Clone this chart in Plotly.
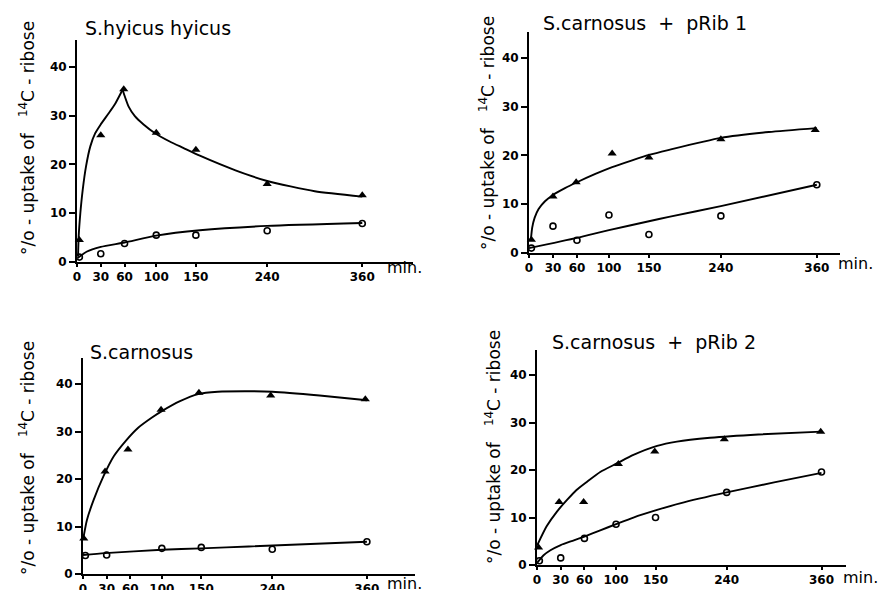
import plotly.graph_objects as go

W, H = 880, 590

# ---------------- data ----------------
x_ticks = [0, 30, 60, 100, 150, 240, 360]
y_ticks = [0, 10, 20, 30, 40]
sample_min = [3, 30, 60, 100, 150, 240, 360]

titles = ["S.hyicus hyicus", "S.carnosus  +  pRib 1", "S.carnosus", "S.carnosus  +  pRib 2"]

# Panel 1: S.hyicus hyicus
hyicus_tri_x = [3, 30, 59, 100, 150, 240, 360]
hyicus_tri = [4.5, 26.0, 35.4, 26.5, 23.0, 16.0, 13.7]
hyicus_circ = [1.0, 1.7, 3.8, 5.5, 5.5, 6.4, 7.9]
hyicus_tri_rise_x = [1.3, 2.1, 4.2, 7.2, 11.4, 16.8, 23, 29.5, 40, 48.4, 57.5]
hyicus_tri_rise_y = [1.1, 5.2, 10.0, 14.8, 19.6, 23.7, 26.4, 28.1, 30.5, 32.5, 35.3]
hyicus_tri_decay_x = [57.5, 65, 73, 84, 98.5, 117, 134, 155, 200, 240, 300, 360]
hyicus_tri_decay_y = [35.3, 31.9, 29.9, 28.2, 26.4, 24.7, 23.4, 21.8, 18.8, 16.6, 14.5, 13.4]
hyicus_circ_fit_x = [0.4, 12, 30, 60, 100, 155, 240, 360]
hyicus_circ_fit_y = [0.75, 2.1, 3.1, 4.0, 5.4, 6.5, 7.4, 8.0]

# Panel 2: S.carnosus + pRib 1
rib1_tri_x = [3, 30, 59, 104, 150, 240, 358]
rib1_tri = [2.7, 11.6, 14.5, 20.4, 19.6, 23.3, 25.2]
rib1_circ = [1.0, 5.5, 2.6, 7.8, 3.8, 7.6, 14.0]
rib1_tri_fit_x = [2.5, 4, 7, 12, 20, 30, 45, 60, 83, 104, 129, 150, 174, 240, 300, 360]
rib1_tri_fit_y = [3.0, 5.2, 7.2, 9.0, 10.6, 11.9, 13.3, 14.5, 16.2, 17.6, 19.0, 20.1, 21.1, 23.6, 24.8, 25.6]
rib1_circ_fit_x = [0, 60, 100, 150, 175, 240, 360]
rib1_circ_fit_y = [1.0, 3.1, 4.7, 6.5, 7.4, 9.6, 14.0]

# Panel 3: S.carnosus
carn_tri_x = [1, 28, 57, 99, 147, 238, 358]
carn_tri = [7.5, 21.6, 26.2, 34.6, 38.2, 37.6, 36.8]
carn_circ_x = [3, 30, 100, 150, 240, 360]
carn_circ = [3.9, 4.0, 5.4, 5.6, 5.2, 6.8]
carn_tri_fit_x = [0.8, 5, 13.5, 26, 39, 54, 70, 87, 100, 123, 146, 171, 205, 240, 300, 360]
carn_tri_fit_y = [7.9, 11.4, 15.6, 20.6, 24.8, 28.0, 30.8, 32.9, 34.3, 36.4, 37.9, 38.4, 38.5, 38.4, 37.6, 36.6]
carn_circ_fit_x = [0, 28, 100, 150, 210, 360]
carn_circ_fit_y = [4.0, 4.4, 5.1, 5.4, 5.8, 6.8]

# Panel 4: S.carnosus + pRib 2
rib2_tri_x = [2, 28, 59, 103, 149, 237, 359]
rib2_tri = [3.7, 13.3, 13.3, 21.3, 23.9, 26.5, 28.1]
rib2_circ = [0.9, 1.5, 5.6, 8.6, 10.0, 15.3, 19.6]
rib2_tri_fit_x = [0.4, 12, 25, 38, 50, 63, 80, 101, 122, 152, 177, 219, 280, 360]
rib2_tri_fit_y = [4.2, 8.1, 11.2, 13.7, 15.8, 17.5, 19.6, 21.4, 23.2, 25.1, 26.0, 26.8, 27.5, 28.1]
rib2_circ_fit_x = [0.4, 8, 17, 30, 45, 60, 80, 100, 122, 152, 181, 240, 300, 360]
rib2_circ_fit_y = [0.5, 2.0, 3.1, 4.2, 5.1, 6.0, 7.3, 8.6, 10.0, 11.6, 13.0, 15.3, 17.4, 19.4]

# ---------------- layout helpers ----------------
def px_x(p):
    return p / W

def px_y(p):
    return 1 - p / H

# panel geometry in pixels: (x0, x1, y_top, y_bottom, xmax, ymax)
panels = [
    (77, 413, 40, 262, 424, 45.5),
    (529, 840, 32, 253, 389, 45.3),
    (83, 415, 358, 574, 421, 45.5),
    (537, 846, 350, 565, 391, 45.3),
]
title_pos = [(83, 28), (541, 23), (88, 352), (550, 342)]
ytitle_pos = [(27, 138), (487, 133), (27, 458), (493, 447)]
min_pos = [(404, 268), (855, 263), (404, 583), (860, 577)]

fig = go.Figure()

tri_style = dict(symbol="triangle-up", size=8, color="black")
circ_style = dict(symbol="circle-open", size=6, color="black", line=dict(width=1.6, color="black"))
line_style = dict(color="black", width=1.9, shape="spline", smoothing=0.6)

series = [
    [("line", hyicus_tri_rise_x, hyicus_tri_rise_y),
     ("line", hyicus_tri_decay_x, hyicus_tri_decay_y),
     ("line", hyicus_circ_fit_x, hyicus_circ_fit_y),
     ("tri", hyicus_tri_x, hyicus_tri),
     ("circ", sample_min, hyicus_circ)],
    [("line", rib1_tri_fit_x, rib1_tri_fit_y),
     ("line", rib1_circ_fit_x, rib1_circ_fit_y),
     ("tri", rib1_tri_x, rib1_tri),
     ("circ", sample_min, rib1_circ)],
    [("line", carn_tri_fit_x, carn_tri_fit_y),
     ("line", carn_circ_fit_x, carn_circ_fit_y),
     ("tri", carn_tri_x, carn_tri),
     ("circ", carn_circ_x, carn_circ)],
    [("line", rib2_tri_fit_x, rib2_tri_fit_y),
     ("line", rib2_circ_fit_x, rib2_circ_fit_y),
     ("tri", rib2_tri_x, rib2_tri),
     ("circ", sample_min, rib2_circ)],
]

layout = {}
annotations = []
font_fam = "DejaVu Sans"
for i, (geom, sers) in enumerate(zip(panels, series)):
    n = i + 1
    xa = "x" if n == 1 else f"x{n}"
    ya = "y" if n == 1 else f"y{n}"
    for kind, xs, ys in sers:
        if kind == "line":
            fig.add_trace(go.Scatter(x=xs, y=ys, mode="lines", line=line_style,
                                     xaxis=xa, yaxis=ya, showlegend=False, cliponaxis=False))
        elif kind == "tri":
            fig.add_trace(go.Scatter(x=xs, y=ys, mode="markers", marker=tri_style,
                                     xaxis=xa, yaxis=ya, showlegend=False, cliponaxis=False))
        else:
            fig.add_trace(go.Scatter(x=xs, y=ys, mode="markers", marker=circ_style,
                                     xaxis=xa, yaxis=ya, showlegend=False, cliponaxis=False))
    x0, x1, yt, yb, xmax, ymax = geom
    axis_common = dict(showline=True, linecolor="black", linewidth=2, showgrid=False,
                       zeroline=False, ticks="outside", tickcolor="black", tickwidth=1.5,
                       automargin=False,
                       tickfont=dict(family=font_fam, size=12, color="black", weight="bold"))
    layout["xaxis" if n == 1 else f"xaxis{n}"] = dict(
        domain=[px_x(x0), px_x(x1)], range=[0, xmax], anchor=ya,
        tickvals=x_ticks, ticktext=[str(v) for v in x_ticks], ticklen=3, **axis_common)
    layout["yaxis" if n == 1 else f"yaxis{n}"] = dict(
        domain=[px_y(yb), px_y(yt)], range=[0, ymax], anchor=xa,
        tickvals=y_ticks, ticktext=[str(v) for v in y_ticks], ticklen=6, **axis_common)

    tx, ty = title_pos[i]
    annotations.append(dict(text=titles[i], x=px_x(tx), y=px_y(ty), xref="paper", yref="paper",
                            xanchor="left", yanchor="middle", showarrow=False,
                            font=dict(family=font_fam, size=19, color="black")))
    yx, yy = ytitle_pos[i]
    annotations.append(dict(text="°/o - uptake of   <sup>14</sup>C - ribose", textangle=-90,
                            x=px_x(yx), y=px_y(yy), xref="paper", yref="paper",
                            xanchor="center", yanchor="middle", showarrow=False,
                            font=dict(family=font_fam, size=17, color="black")))
    mx, my = min_pos[i]
    annotations.append(dict(text="min.", x=px_x(mx), y=px_y(my), xref="paper", yref="paper",
                            xanchor="center", yanchor="middle", showarrow=False,
                            font=dict(family=font_fam, size=16, color="black")))

fig.update_layout(width=W, height=H,
                  margin=dict(l=0, r=0, t=0, b=0, autoexpand=False),
                  paper_bgcolor="white", plot_bgcolor="white",
                  annotations=annotations, **layout)

fig.write_html("out.html", config={"displayModeBar": False},
               post_script="document.body.style.margin='0';document.body.style.overflow='hidden';")
